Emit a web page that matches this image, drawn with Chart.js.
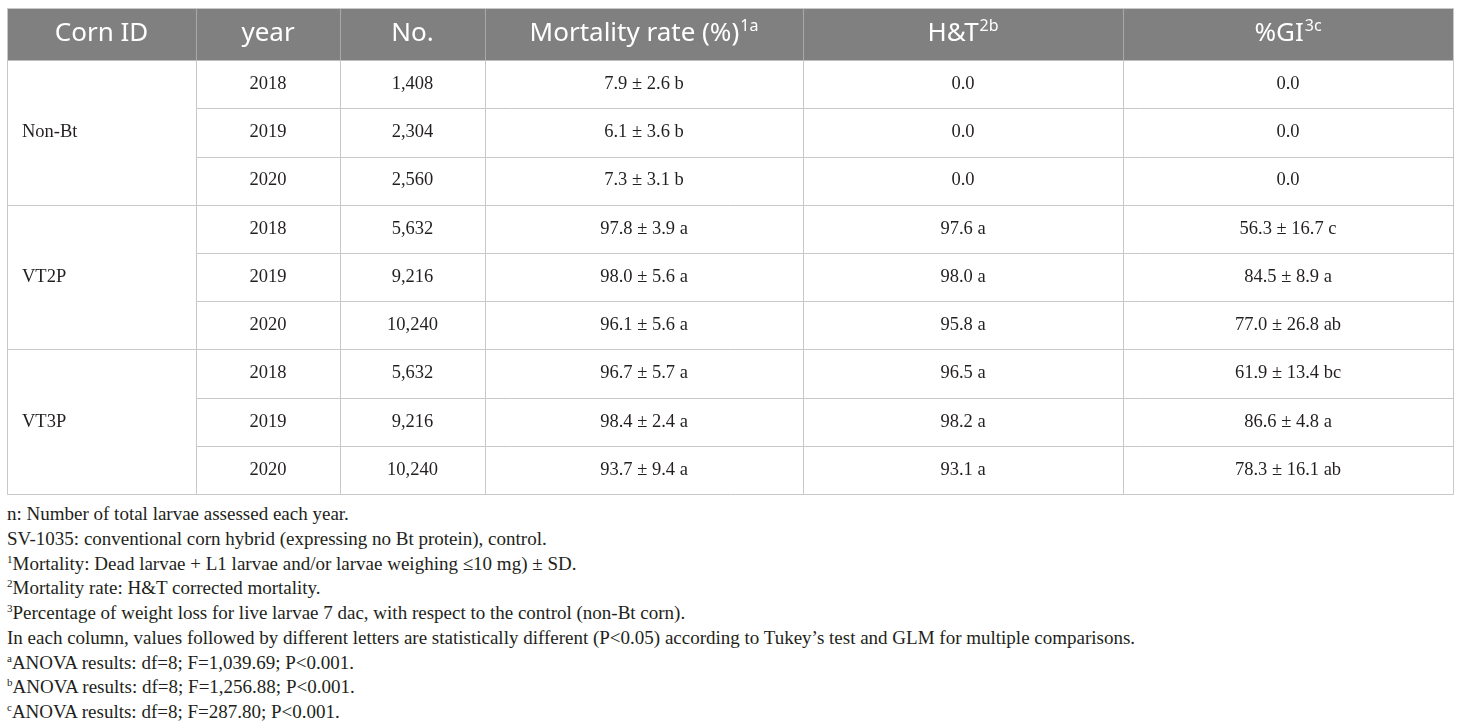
<!DOCTYPE html>
<html>
<head>
<meta charset="utf-8">
<title>Corn ID mortality table</title>
<script src="https://cdn.jsdelivr.net/npm/chart.js@4.4.1/dist/chart.umd.min.js"></script>
<style>
  html, body { margin: 0; padding: 0; background: #fff; }
  #wrap { position: relative; width: 1460px; height: 728px; overflow: hidden; }
  #tableChart { position: absolute; left: 0; top: 0; }
  #notes {
    position: absolute; left: 7px; top: 502px;
    font-family: "Liberation Serif", "Times New Roman", serif;
    font-size: 19px; color: #231f20; white-space: nowrap;
  }
  #notes div { height: 24.75px; line-height: 24.75px; }
  #notes .mark { font-size: 11px; line-height: 0; position: relative; top: -7px; }
</style>
</head>
<body>
<div id="wrap">
  <canvas id="tableChart" width="1460" height="500"></canvas>
  <div id="notes"></div>
</div>
<script>
// 1. TABLE DATA
const headers = ['Corn ID', 'year', 'No.', 'Mortality rate (%)', 'H&T', '%GI'];
const headerSups = ['', '', '', '1a', '2b', '3c'];
const cornIds = ['Non-Bt', 'VT2P', 'VT3P'];
const years = ['2018', '2019', '2020', '2018', '2019', '2020', '2018', '2019', '2020'];
const larvaeCounts = ['1,408', '2,304', '2,560', '5,632', '9,216', '10,240', '5,632', '9,216', '10,240'];
const mortality = ['7.9 ± 2.6 b', '6.1 ± 3.6 b', '7.3 ± 3.1 b', '97.8 ± 3.9 a', '98.0 ± 5.6 a',
                   '96.1 ± 5.6 a', '96.7 ± 5.7 a', '98.4 ± 2.4 a', '93.7 ± 9.4 a'];
const htCorrected = ['0.0', '0.0', '0.0', '97.6 a', '98.0 a', '95.8 a', '96.5 a', '98.2 a', '93.1 a'];
const growthInhibition = ['0.0', '0.0', '0.0', '56.3 ± 16.7 c', '84.5 ± 8.9 a', '77.0 ± 26.8 ab',
                          '61.9 ± 13.4 bc', '86.6 ± 4.8 a', '78.3 ± 16.1 ab'];

const footnoteMarks = ['', '', '1', '2', '3', '', 'a', 'b', 'c'];
const footnoteTexts = [
    'n: Number of total larvae assessed each year.',
    'SV-1035: conventional corn hybrid (expressing no Bt protein), control.',
    'Mortality: Dead larvae + L1 larvae and/or larvae weighing ≤10 mg) ± SD.',
    'Mortality rate: H&T corrected mortality.',
    'Percentage of weight loss for live larvae 7 dac, with respect to the control (non-Bt corn).',
    'In each column, values followed by different letters are statistically different (P<0.05) according to Tukey’s test and GLM for multiple comparisons.',
    'ANOVA results: df=8; F=1,039.69; P<0.001.',
    'ANOVA results: df=8; F=1,256.88; P<0.001.',
    'ANOVA results: df=8; F=287.80; P<0.001.'
];

// 2. LAYOUT SETTINGS (column widths in table units, header height in row units)
const colWidths = [189, 144, 145, 318, 320, 330];
const HEADER_ROWS = 1.08;
const ROWS_PER_GROUP = 3;
const colEdges = colWidths.reduce((acc, w) => { acc.push(acc[acc.length - 1] + w); return acc; }, [0]);
const bodyColumns = [years, larvaeCounts, mortality, htCorrected, growthInhibition];

// 3. TABLE DRAWING PLUGIN - every cell is placed through the chart's x / y scales
const tablePlugin = {
    id: 'tableDraw',
    afterDraw(chart) {
        const ctx = chart.ctx;
        const xs = chart.scales.x;
        const ys = chart.scales.y;
        const px = (v) => Math.round(xs.getPixelForValue(v)) + 0.5;
        const py = (v) => Math.round(ys.getPixelForValue(v)) + 0.5;
        const left = px(0), right = px(colEdges[colEdges.length - 1]);
        const top = py(0), headBottom = py(HEADER_ROWS), bottom = py(HEADER_ROWS + years.length);

        ctx.save();

        // header band
        ctx.fillStyle = '#808080';
        ctx.fillRect(left, top, right - left, headBottom - top);

        // header separators
        ctx.strokeStyle = '#a9a9a9';
        ctx.lineWidth = 1;
        ctx.beginPath();
        for (let c = 1; c < colWidths.length; c++) {
            ctx.moveTo(px(colEdges[c]), top);
            ctx.lineTo(px(colEdges[c]), headBottom);
        }
        ctx.stroke();

        // body grid
        ctx.strokeStyle = '#c8c8c8';
        ctx.beginPath();
        for (let c = 1; c < colWidths.length; c++) {
            ctx.moveTo(px(colEdges[c]), headBottom);
            ctx.lineTo(px(colEdges[c]), bottom);
        }
        for (let r = 1; r < years.length; r++) {
            const y = py(HEADER_ROWS + r);
            const startX = (r % ROWS_PER_GROUP === 0) ? left : px(colEdges[1]);
            ctx.moveTo(startX, y);
            ctx.lineTo(right, y);
        }
        ctx.rect(left, top, right - left, bottom - top);
        ctx.stroke();

        // header text with superscripts
        ctx.textBaseline = 'middle';
        const headFont = '26px "Noto Sans", "Open Sans", sans-serif';
        const supFont = '16px "Noto Sans", "Open Sans", sans-serif';
        ctx.fillStyle = '#ffffff';
        const headY = ys.getPixelForValue(HEADER_ROWS / 2);
        headers.forEach((h, c) => {
            ctx.font = headFont;
            const wMain = ctx.measureText(h).width;
            ctx.font = supFont;
            const wSup = headerSups[c] ? ctx.measureText(headerSups[c]).width + 1 : 0;
            const cx = xs.getPixelForValue((colEdges[c] + colEdges[c + 1]) / 2);
            const x0 = cx - (wMain + wSup) / 2;
            ctx.textAlign = 'left';
            ctx.font = headFont;
            ctx.fillText(h, x0, headY);
            if (headerSups[c]) {
                ctx.font = supFont;
                ctx.fillText(headerSups[c], x0 + wMain + 1, headY - 8);
            }
        });

        // body text
        ctx.fillStyle = '#231f20';
        ctx.font = '18.5px "Liberation Serif", "Times New Roman", serif';
        cornIds.forEach((id, g) => {
            ctx.textAlign = 'left';
            const yMid = ys.getPixelForValue(HEADER_ROWS + g * ROWS_PER_GROUP + ROWS_PER_GROUP / 2);
            ctx.fillText(id, xs.getPixelForValue(15), yMid);
        });
        ctx.textAlign = 'center';
        bodyColumns.forEach((col, i) => {
            const c = i + 1;
            const cx = xs.getPixelForValue((colEdges[c] + colEdges[c + 1]) / 2);
            col.forEach((txt, r) => {
                ctx.fillText(txt, cx, ys.getPixelForValue(HEADER_ROWS + r + 0.5));
            });
        });

        ctx.restore();
    }
};

// 4. CHART INITIALIZATION
const ctx = document.getElementById('tableChart').getContext('2d');
const tableChart = new Chart(ctx, {
    type: 'scatter',
    data: {
        datasets: [{
            data: years.map((y, r) => ({ x: colEdges[1] + colWidths[1] / 2, y: HEADER_ROWS + r + 0.5 })),
            pointRadius: 0
        }]
    },
    options: {
        responsive: false,
        animation: false,
        layout: { padding: { left: 7, top: 8, right: 7, bottom: 6 } },
        scales: {
            x: { type: 'linear', display: false, min: 0, max: colEdges[colEdges.length - 1] },
            y: { type: 'linear', display: false, reverse: true, min: 0, max: HEADER_ROWS + years.length }
        },
        plugins: { legend: { display: false }, tooltip: { enabled: false } }
    },
    plugins: [tablePlugin]
});

// 5. FOOTNOTES
const notes = document.getElementById('notes');
footnoteTexts.forEach((t, i) => {
    const line = document.createElement('div');
    if (footnoteMarks[i]) {
        const m = document.createElement('span');
        m.className = 'mark';
        m.textContent = footnoteMarks[i];
        line.appendChild(m);
    }
    line.appendChild(document.createTextNode(t));
    notes.appendChild(line);
});
</script>
</body>
</html>
